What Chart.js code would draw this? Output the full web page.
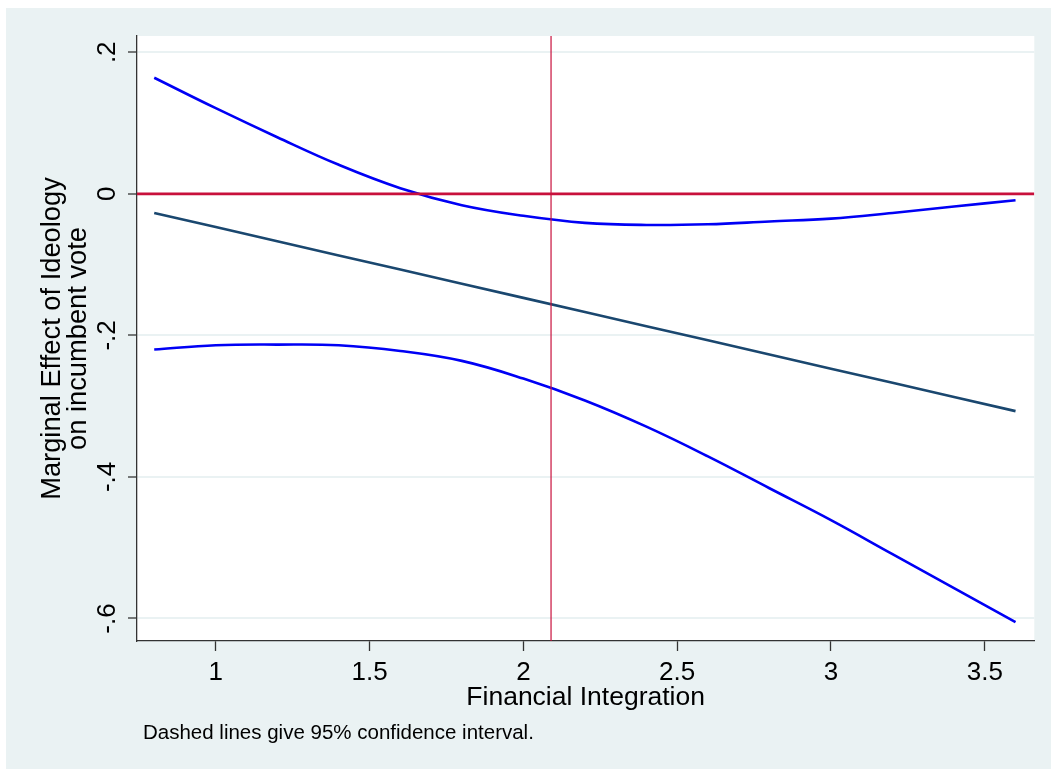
<!DOCTYPE html>
<html>
<head>
<meta charset="utf-8">
<title>Marginal Effect of Ideology on incumbent vote</title>
<script src="https://cdn.jsdelivr.net/npm/chart.js@4.4.1/dist/chart.umd.min.js"></script>
<style>
  html, body { margin: 0; padding: 0; background: #ffffff; overflow: hidden; }
  #marginalChart { display: block; }
</style>
</head>
<body>
<canvas id="marginalChart" width="1051" height="769"></canvas>
<script>
// Financial integration values where the effect was evaluated
const integrationValues = [0.8, 1.0, 1.2, 1.4, 1.6, 1.8, 2.0, 2.2, 2.4, 2.6, 2.8, 3.0, 3.2, 3.4, 3.6];
// Marginal effect and its 95% confidence bounds
const effectValues = [-0.027, -0.047, -0.067, -0.087, -0.107, -0.127, -0.147, -0.167, -0.187, -0.207, -0.227, -0.247, -0.267, -0.287, -0.307];
const upperValues = [0.164, 0.121, 0.080, 0.041, 0.008, -0.016, -0.031, -0.041, -0.044, -0.043, -0.039, -0.035, -0.027, -0.018, -0.009];
const lowerValues = [-0.220, -0.214, -0.213, -0.214, -0.222, -0.236, -0.261, -0.292, -0.329, -0.371, -0.416, -0.461, -0.509, -0.557, -0.605];

// Axis ticks, Stata style labels
const xTickValues = [1, 1.5, 2, 2.5, 3, 3.5];
const xTickLabels = ['1', '1.5', '2', '2.5', '3', '3.5'];
const yTickValues = [-0.6, -0.4, -0.2, 0, 0.2];
const yTickLabels = ['-.6', '-.4', '-.2', '0', '.2'];

// Reference lines
const meanIntegration = 2.09;
const zeroEffect = 0;

const FONT = '"Liberation Sans", Arial, sans-serif';
const NOTE_TEXT = 'Dashed lines give 95% confidence interval.';

document.addEventListener('DOMContentLoaded', function() {
  initMarginalChart();
});

/**
 * Make {x, y} points out of two arrays
 */
function toPoints(xs, ys) {
  return xs.map(function(x, i) {
    return { x: x, y: ys[i] };
  });
}

/**
 * Plugin: Stata-like background and the note under the graph
 */
const stataBackground = {
  id: 'stataBackground',
  beforeDraw: function(chart) {
    const ctx = chart.ctx;
    const area = chart.chartArea;
    ctx.save();
    ctx.fillStyle = '#ffffff';
    ctx.fillRect(0, 0, chart.width, chart.height);
    ctx.fillStyle = '#eaf2f3';
    ctx.fillRect(6, 8, chart.width - 6, chart.height - 8);
    ctx.fillStyle = '#ffffff';
    ctx.fillRect(area.left, area.top, area.right - area.left, area.bottom - area.top);
    ctx.restore();
  },
  afterDraw: function(chart) {
    const ctx = chart.ctx;
    ctx.save();
    ctx.fillStyle = '#000000';
    ctx.font = '20.5px ' + FONT;
    ctx.textAlign = 'left';
    ctx.textBaseline = 'alphabetic';
    ctx.fillText(NOTE_TEXT, 143, 739);
    ctx.restore();
  }
};

/**
 * Build the chart
 */
function initMarginalChart() {
  const canvas = document.getElementById('marginalChart');
  if (!canvas) return;

  const xMin = 0.744;
  const xMax = 3.661;
  const yMin = -0.6318;
  const yMax = 0.223;

  const data = {
    datasets: [
      {
        label: 'zero',
        data: [{ x: xMin, y: zeroEffect }, { x: xMax, y: zeroEffect }],
        borderColor: '#c8103c',
        borderWidth: 2.6,
        order: 0
      },
      {
        label: 'mean',
        data: [{ x: meanIntegration, y: yMin }, { x: meanIntegration, y: yMax }],
        borderColor: '#c8103c',
        borderWidth: 1.2,
        order: 0
      },
      {
        label: 'upper',
        data: toPoints(integrationValues, upperValues),
        borderColor: '#0000f5',
        borderWidth: 2.6,
        tension: 0.4,
        order: 1
      },
      {
        label: 'effect',
        data: toPoints(integrationValues, effectValues),
        borderColor: '#1a476f',
        borderWidth: 2.6,
        order: 1
      },
      {
        label: 'lower',
        data: toPoints(integrationValues, lowerValues),
        borderColor: '#0000f5',
        borderWidth: 2.6,
        tension: 0.4,
        order: 1
      }
    ]
  };

  const options = {
    responsive: false,
    animation: false,
    layout: { padding: { left: 0, top: 36, right: 16.7, bottom: 0 } },
    elements: { point: { radius: 0 } },
    plugins: {
      legend: { display: false },
      tooltip: { enabled: false }
    },
    scales: {
      x: {
        type: 'linear',
        min: xMin,
        max: xMax,
        afterFit: function(scale) { scale.height = 128; },
        afterBuildTicks: function(scale) {
          scale.ticks = xTickValues.map(function(v) { return { value: v }; });
        },
        ticks: {
          autoSkip: false,
          maxRotation: 0,
          padding: 6,
          color: '#000000',
          font: { family: FONT, size: 26 },
          callback: function(value, index) { return xTickLabels[index]; }
        },
        grid: {
          drawOnChartArea: false,
          drawTicks: true,
          tickLength: 10,
          tickColor: '#333333',
          tickWidth: 1.3
        },
        border: { color: '#333333', width: 1.3 },
        title: {
          display: true,
          text: 'Financial Integration',
          color: '#000000',
          font: { family: FONT, size: 26.5, lineHeight: '26px' },
          padding: { top: 0, bottom: 58.8 }
        }
      },
      y: {
        type: 'linear',
        min: yMin,
        max: yMax,
        afterFit: function(scale) { scale.width = 137; },
        afterBuildTicks: function(scale) {
          scale.ticks = yTickValues.map(function(v) { return { value: v }; });
        },
        ticks: {
          autoSkip: false,
          minRotation: 90,
          maxRotation: 90,
          crossAlign: 'center',
          padding: 5.5,
          color: '#000000',
          font: { family: FONT, size: 26 },
          callback: function(value, index) { return yTickLabels[index]; }
        },
        grid: {
          color: '#eaf2f3',
          lineWidth: 2,
          drawTicks: true,
          tickLength: 9,
          tickColor: '#333333',
          tickWidth: 1.3
        },
        border: { color: '#333333', width: 1.3 },
        title: {
          display: true,
          text: ['Marginal Effect of Ideology', 'on incumbent vote'],
          color: '#000000',
          font: { family: FONT, size: 27.3, lineHeight: '26px' },
          padding: { top: 39.5, bottom: 0 }
        }
      }
    }
  };

  try {
    new Chart(canvas, {
      type: 'line',
      data: data,
      options: options,
      plugins: [stataBackground]
    });
  } catch (error) {
    console.error('Chart failed:', error);
  }
}
</script>
</body>
</html>
